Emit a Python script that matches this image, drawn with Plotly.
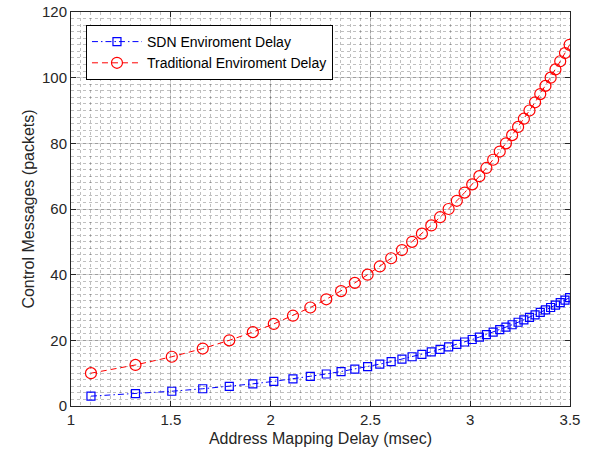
import plotly.graph_objects as go

# Address mapping delay (msec) at each sample
delay_ms = [1.100, 1.323, 1.505, 1.660, 1.793, 1.911, 2.016, 2.112, 2.199, 2.279,
            2.353, 2.422, 2.486, 2.547, 2.604, 2.658, 2.709, 2.758, 2.805, 2.849,
            2.892, 2.933, 2.972, 3.010, 3.046, 3.081, 3.115, 3.148, 3.179, 3.210,
            3.240, 3.269, 3.297, 3.325, 3.351, 3.377, 3.403, 3.427, 3.451, 3.475,
            3.498]

# Control messages (packets)
sdn_msgs = [3.00, 3.75, 4.50, 5.25, 6.00, 6.75, 7.50, 8.25, 9.00, 9.75,
            10.50, 11.25, 12.00, 12.75, 13.50, 14.25, 15.00, 15.75, 16.50, 17.25,
            18.00, 18.75, 19.50, 20.25, 21.00, 21.75, 22.50, 23.25, 24.00, 24.75,
            25.50, 26.25, 27.00, 27.75, 28.50, 29.25, 30.00, 30.75, 31.50, 32.25,
            33.00]
trad_msgs = [10.0, 12.5, 15.0, 17.5, 20.0, 22.5, 25.0, 27.5, 30.0, 32.5,
             35.0, 37.5, 40.0, 42.5, 45.0, 47.5, 50.0, 52.5, 55.0, 57.5,
             60.0, 62.5, 65.0, 67.5, 70.0, 72.5, 75.0, 77.5, 80.0, 82.5,
             85.0, 87.5, 90.0, 92.5, 95.0, 97.5, 100.0, 102.5, 105.0, 107.5,
             110.0]

x_ticks = [1, 1.5, 2, 2.5, 3, 3.5]
y_ticks = [0, 20, 40, 60, 80, 100, 120]

FONT = "Liberation Sans, Arial, Helvetica, sans-serif"
AXIS_COLOR = "#262626"

fig = go.Figure()
fig.add_trace(go.Scatter(
    x=delay_ms, y=sdn_msgs, name="SDN Enviroment Delay",
    mode="lines+markers",
    line=dict(color="#0000FF", width=1, dash="6px,3px,1.5px,3px"),
    marker=dict(symbol="square-open", size=8, color="#0000FF",
                line=dict(width=1.2, color="#0000FF")),
))
fig.add_trace(go.Scatter(
    x=delay_ms, y=trad_msgs, name="Traditional Enviroment Delay",
    mode="lines+markers",
    line=dict(color="#FF0000", width=1, dash="6px,4px"),
    marker=dict(symbol="circle-open", size=11, color="#FF0000",
                line=dict(width=1.2, color="#FF0000")),
))

axis_common = dict(
    showline=True, linecolor=AXIS_COLOR, linewidth=1, mirror="ticks",
    ticks="inside", ticklen=5, tickcolor=AXIS_COLOR,
    showgrid=True, gridcolor="rgba(0,0,0,0.17)", gridwidth=1,
    zeroline=False, automargin=False,
    tickfont=dict(family=FONT, size=15, color=AXIS_COLOR),
)

fig.update_xaxes(
    range=[1, 3.5], tickvals=x_ticks, ticktext=[str(v) for v in x_ticks],
    title=dict(text="Address Mapping Delay (msec)",
               font=dict(family=FONT, size=16, color=AXIS_COLOR), standoff=5),
    minor=dict(dtick=0.05, showgrid=True, gridcolor="rgba(0,0,0,0.25)",
               griddash="dot", gridwidth=1, ticks=""),
    **axis_common,
)
fig.update_yaxes(
    range=[0, 120], tickvals=y_ticks, ticktext=[str(v) for v in y_ticks],
    title=dict(text="Control Messages (packets)",
               font=dict(family=FONT, size=16, color=AXIS_COLOR), standoff=3),
    minor=dict(dtick=2, showgrid=True, gridcolor="rgba(0,0,0,0.25)",
               griddash="dot", gridwidth=1, ticks=""),
    **axis_common,
)

fig.update_layout(
    width=593, height=457,
    margin=dict(l=71, r=23, t=12, b=51),
    paper_bgcolor="white", plot_bgcolor="white",
    font=dict(family=FONT, color=AXIS_COLOR),
    showlegend=True,
    legend=dict(
        x=0.03, y=0.967, xanchor="left", yanchor="top",
        bgcolor="white", bordercolor="#000000", borderwidth=1,
        font=dict(family=FONT, size=14, color="#000000"),
        itemwidth=50, tracegroupgap=0,
    ),
)

fig.write_html("out.html")
